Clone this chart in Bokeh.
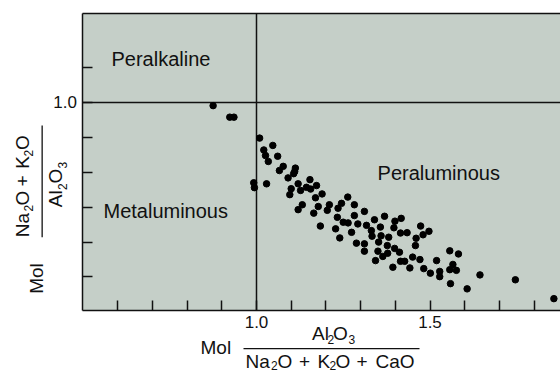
import math
from bokeh.plotting import figure
from bokeh.models import Label, FixedTicker, LinearAxis, Range1d, BoxAnnotation
from bokeh.embed import file_html
from bokeh.resources import INLINE

# ---- data ----
acnk = [0.875, 0.923, 0.935, 1.009, 1.047, 1.021, 1.026, 1.061, 1.034, 1.077,
        1.066, 1.112, 1.110, 1.107, 1.091, 0.992, 0.994, 1.029, 1.120, 1.154,
        1.100, 1.127, 1.144, 1.156, 1.173, 1.189, 1.096, 1.170, 1.263, 1.132,
        1.120, 1.178, 1.165, 1.210, 1.204, 1.245, 1.235, 1.282, 1.184, 1.233,
        1.250, 1.264, 1.282, 1.311, 1.292, 1.228, 1.274, 1.240, 1.317, 1.340,
        1.369, 1.399, 1.331, 1.357, 1.333, 1.359, 1.381, 1.396, 1.288, 1.311,
        1.311, 1.352, 1.377, 1.350, 1.364, 1.378, 1.343, 1.393, 1.398, 1.417,
        1.473, 1.497, 1.480, 1.415, 1.434, 1.460, 1.458, 1.412, 1.450, 1.471,
        1.415, 1.427, 1.557, 1.582, 1.519, 1.566, 1.557, 1.576, 1.442, 1.482,
        1.501, 1.528, 1.528, 1.644, 1.559, 1.607, 1.746, 1.857]
ank = [0.991, 0.958, 0.958, 0.898, 0.877, 0.864, 0.848, 0.846, 0.831, 0.817,
       0.805, 0.812, 0.802, 0.796, 0.784, 0.770, 0.756, 0.767, 0.767, 0.779,
       0.753, 0.748, 0.757, 0.752, 0.762, 0.738, 0.736, 0.727, 0.729, 0.707,
       0.693, 0.702, 0.683, 0.707, 0.691, 0.711, 0.697, 0.707, 0.646, 0.671,
       0.657, 0.655, 0.676, 0.688, 0.652, 0.638, 0.628, 0.612, 0.648, 0.664,
       0.674, 0.660, 0.633, 0.643, 0.617, 0.618, 0.614, 0.641, 0.597, 0.595,
       0.574, 0.600, 0.590, 0.574, 0.559, 0.568, 0.547, 0.528, 0.582, 0.668,
       0.646, 0.631, 0.621, 0.626, 0.627, 0.611, 0.590, 0.571, 0.557, 0.550,
       0.545, 0.545, 0.575, 0.566, 0.547, 0.536, 0.521, 0.519, 0.526, 0.524,
       0.511, 0.516, 0.501, 0.506, 0.481, 0.466, 0.492, 0.438]

x_ticks = [0.6, 0.7, 0.8, 0.9, 1.0, 1.1, 1.2, 1.3, 1.4, 1.5, 1.6, 1.7, 1.8]
x_tick_labels = ["", "", "", "", "1.0", "", "", "", "", "1.5", "", "", ""]
y_ticks = [0.5, 0.6, 0.7, 0.8, 0.9, 1.0, 1.1]
y_tick_labels = ["", "", "", "", "", "1.0", ""]

# diagram limits and the two boundaries
x_min, x_max = 0.5, 1.876
y_min, y_max = 0.404, 1.255
boundary_acnk = 1.0
boundary_ank = 1.0

regions = ["Peralkaline", "Metaluminous", "Peraluminous"]
region_x = [0.582, 0.559, 1.349]
region_y = [1.126, 0.689, 0.798]

FONT = "Liberation Sans"
BG = "#c5cfc8"
INK = "#111111"

# the frame fills the whole page; the diagram box sits inside it
p = figure(width=560, height=372, output_backend="svg", toolbar_location=None,
           x_range=Range1d(0.26225, 1.87608), y_range=Range1d(0.22636, 1.29226),
           min_border=0, x_axis_location=None, y_axis_location=None)
p.background_fill_color = "white"
p.border_fill_color = "white"
p.outline_line_color = None
p.xgrid.visible = False
p.ygrid.visible = False

p.add_layout(BoxAnnotation(left=x_min, right=x_max, bottom=y_min, top=y_max,
                           fill_color=BG, fill_alpha=1.0, line_color=None,
                           level="underlay"))

def style(ax, ticks, labels):
    ax.ticker = FixedTicker(ticks=ticks, minor_ticks=[])
    ax.major_label_overrides = {t: l for t, l in zip(ticks, labels)}
    ax.major_tick_in = 10
    ax.major_tick_out = 0
    ax.minor_tick_in = 0
    ax.minor_tick_out = 0
    ax.axis_line_color = INK
    ax.axis_line_width = 1.5
    ax.major_tick_line_color = INK
    ax.major_tick_line_width = 1.5
    ax.major_label_text_font = FONT
    ax.major_label_text_font_size = "17px"
    ax.major_label_text_color = INK

xa = LinearAxis(fixed_location=y_min, bounds=(x_min, x_max), major_label_standoff=5)
style(xa, x_ticks, x_tick_labels)
p.add_layout(xa, "below")
ya = LinearAxis(fixed_location=x_min, bounds=(y_min, y_max), major_label_standoff=6)
style(ya, y_ticks, y_tick_labels)
p.add_layout(ya, "left")
ta = LinearAxis(fixed_location=y_max, bounds=(x_min, x_max), ticker=FixedTicker(ticks=[]),
                axis_line_color=INK, axis_line_width=1.5, major_tick_in=0,
                major_tick_out=0, minor_tick_in=0, minor_tick_out=0)
p.add_layout(ta, "above")

p.segment(x0=[boundary_acnk, x_min], y0=[y_min, boundary_ank],
          x1=[boundary_acnk, x_max], y1=[y_max, boundary_ank],
          line_color=INK, line_width=1.5)

p.scatter(acnk, ank, size=6.5, color="black")

for t, x, y in zip(regions, region_x, region_y):
    p.add_layout(Label(x=x, y=y, text=t, text_font=FONT, text_font_size="20px",
                       text_color=INK, text_baseline="middle", text_align="left"))

MID = 0.347  # distance from baseline to the middle of the text box, in em

def txt(s, x, y, size=19, rotated=False):
    # (x, y): start of the baseline, in page pixels from the top-left corner
    if rotated:
        x, ang = x - MID * size, math.pi / 2
    else:
        y, ang = y - MID * size, 0.0
    p.add_layout(Label(x=x, y=y, x_units="canvas", y_units="canvas", text=s,
                       text_font=FONT, text_font_size=f"{size}px", text_color=INK,
                       text_baseline="middle", text_align="left", angle=ang))

def bar(l, r, t, b):
    p.add_layout(BoxAnnotation(left=l, right=r, top=t, bottom=b,
                               left_units="canvas", right_units="canvas",
                               top_units="canvas", bottom_units="canvas",
                               fill_color=INK, fill_alpha=1.0, line_color=None,
                               level="overlay"))

# x-axis title: Mol  Al2O3 / (Na2O + K2O + CaO)
txt("Mol", 200, 354)
txt("Al", 311.5, 339.5); txt("2", 327, 343.5, 12); txt("O", 332.5, 339.5); txt("3", 348, 343.5, 12)
bar(243, 419, 347.5, 348.7)
txt("Na", 245, 367.5); txt("2", 270.5, 369.2, 12); txt("O", 277, 367.5)
txt("+", 298.5, 367.5); txt("K", 317, 367.5); txt("2", 329, 369.2, 12)
txt("O", 335, 367.5); txt("+", 356, 367.5); txt("CaO", 375, 367.5)

# y-axis title (rotated): Mol (Na2O + K2O) / Al2O3
R = True
txt("Mol", 43, 293.3, rotated=R)
txt("Na", 28.5, 236.7, rotated=R); txt("2", 32.5, 211, 12, R); txt("O", 28.5, 205, rotated=R)
txt("+", 28.5, 186, rotated=R); txt("K", 28.5, 168.3, rotated=R); txt("2", 32.5, 156, 12, R)
txt("O", 28.5, 149.5, rotated=R)
bar(41, 42.3, 125, 236.7)
txt("Al", 61.7, 206.7, rotated=R); txt("2", 65.7, 189.5, 12, R); txt("O", 61.7, 183, rotated=R)
txt("3", 65.7, 168, 12, R)

open("out.html", "w").write(file_html(p, INLINE))
